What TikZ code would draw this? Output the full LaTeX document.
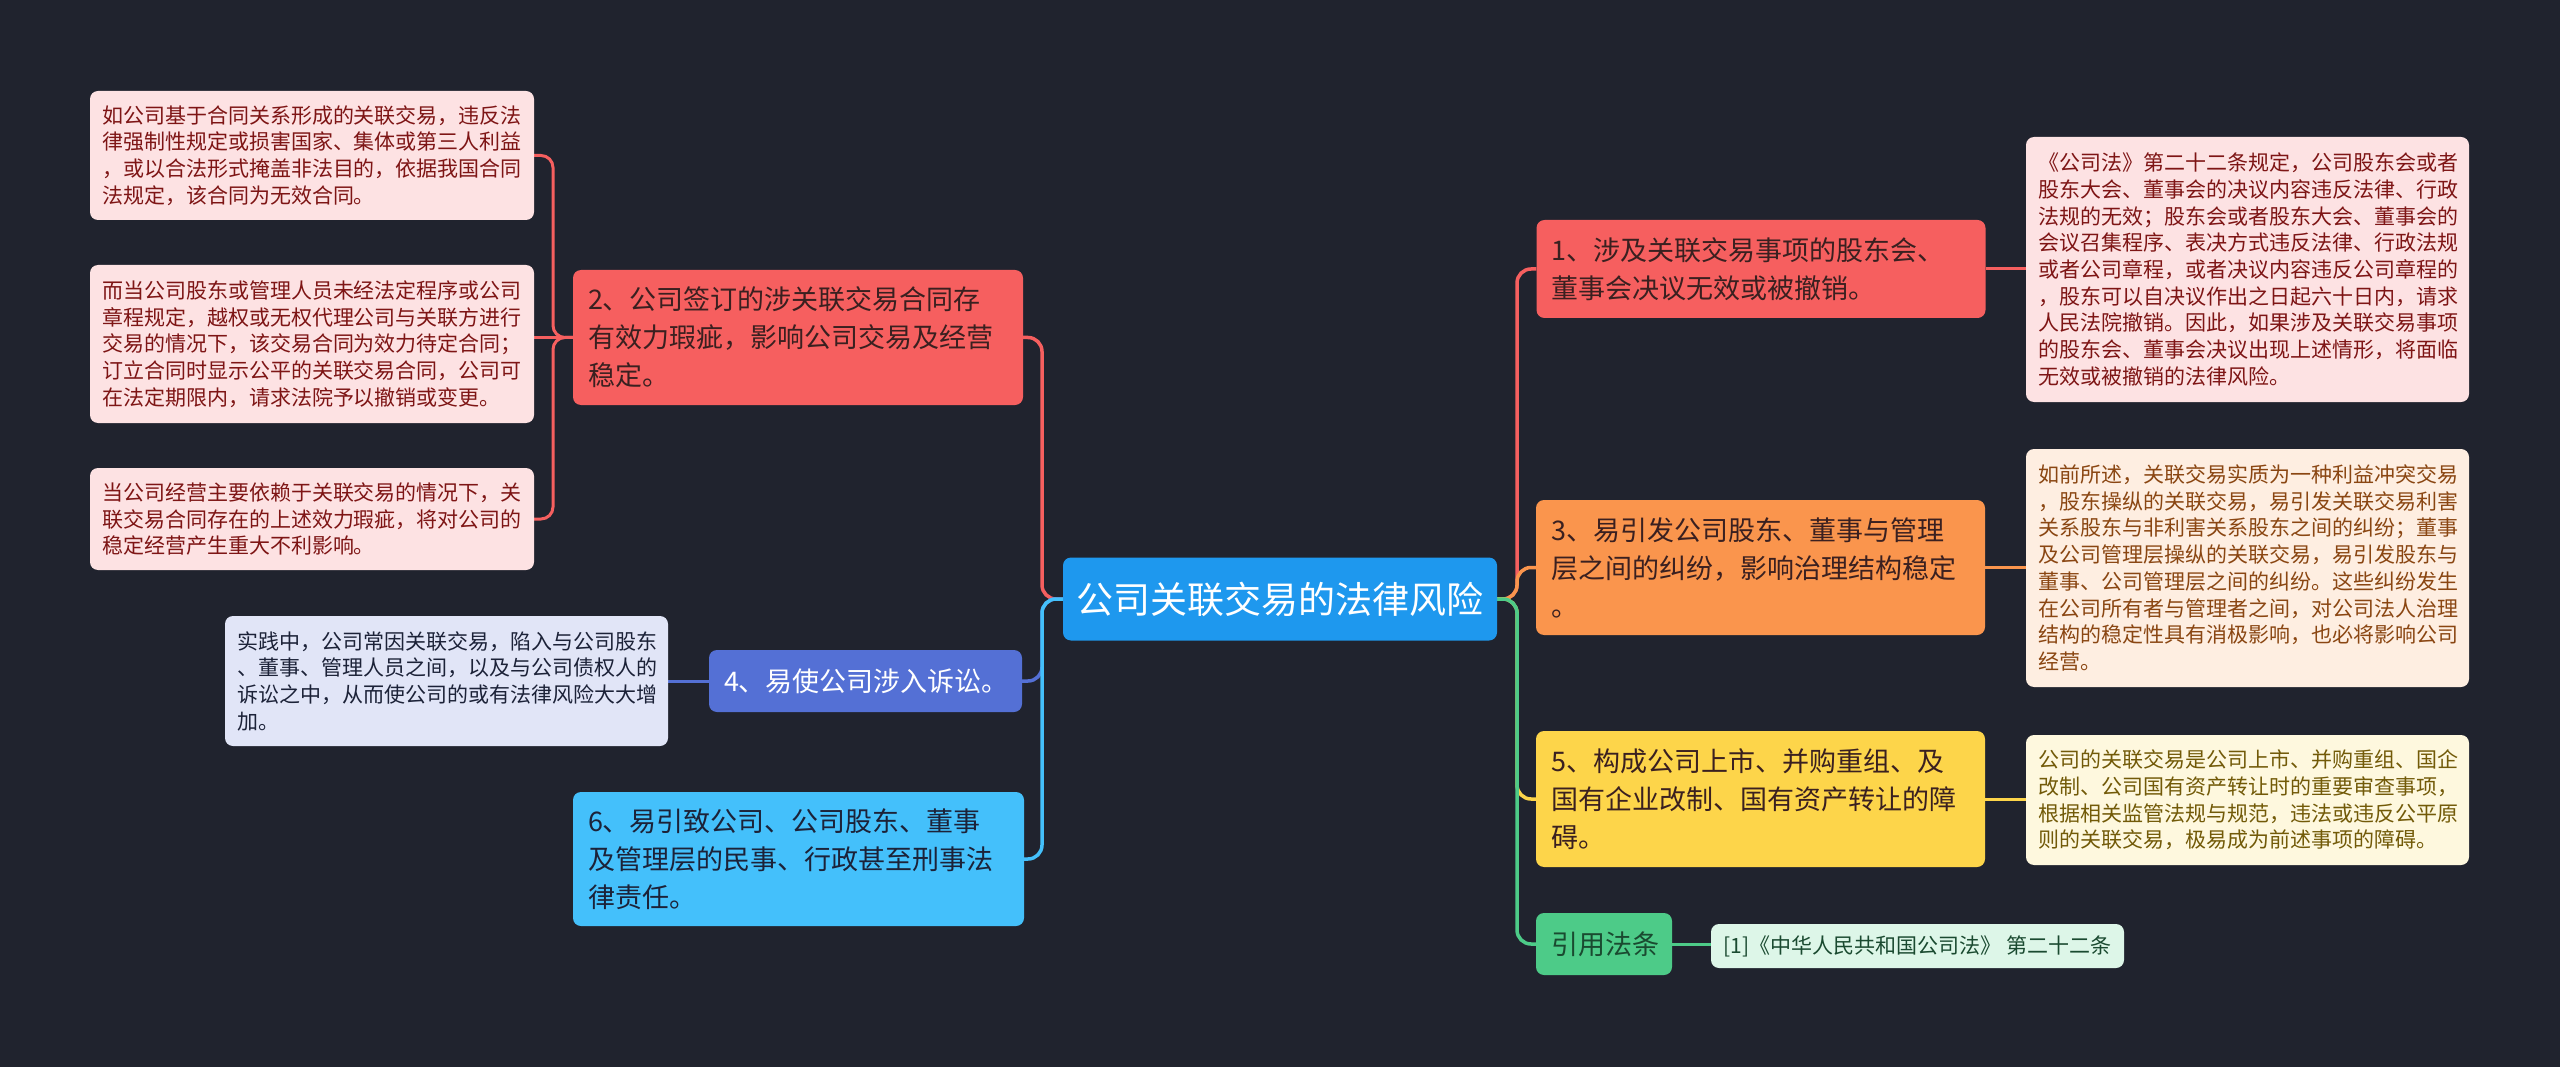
\documentclass[tikz,border=0pt]{standalone}
\usepackage{fontspec}
\usetikzlibrary{backgrounds}
\setmainfont{Noto Sans CJK SC}
\definecolor{bg}{HTML}{20232E}
\definecolor{rootc}{HTML}{1E98EE}
\definecolor{redc}{HTML}{F65F5F}
\definecolor{orgc}{HTML}{FA954D}
\definecolor{indc}{HTML}{5470D5}
\definecolor{yelc}{HTML}{FDD54A}
\definecolor{skyc}{HTML}{44C0FB}
\definecolor{grnc}{HTML}{4DCB88}
\definecolor{pinkbg}{HTML}{FDE2E3}
\definecolor{pinktx}{HTML}{7E1515}
\definecolor{peachbg}{HTML}{FEEEE1}
\definecolor{peachtx}{HTML}{8A4612}
\definecolor{lavbg}{HTML}{E1E5F7}
\definecolor{lavtx}{HTML}{1C2238}
\definecolor{creambg}{HTML}{FEF8DE}
\definecolor{creamtx}{HTML}{725A08}
\definecolor{mintbg}{HTML}{DDF6E8}
\definecolor{minttx}{HTML}{1A4A30}
\definecolor{darktx}{HTML}{3A2020}
\tikzset{
  box/.style={rounded corners=8pt, inner ysep=0pt, align=left, anchor=center},
  topic/.style={box, inner xsep=15pt, font=\fontsize{27pt}{38pt}\selectfont},
  leaf/.style={box, inner xsep=12pt, font=\fontsize{21pt}{26.7pt}\selectfont},
  link/.style={line width=3.5pt, rounded corners=14pt},
  leaflink/.style={line width=3pt, rounded corners=12pt}
}
\begin{document}
\begin{tikzpicture}[x=1pt,y=-1pt]
\useasboundingbox (0,0) rectangle (2560,1067);

% root
\node[box, fill=rootc, text=white, align=center, minimum width=434pt, minimum height=83pt,
  font=\fontsize{37pt}{42pt}\selectfont] (root) at (1280,599) {公司关联交易的法律风险};

% right topics
\node[topic, fill=redc, text=darktx, text width=419pt, minimum height=98pt] (n1) at (1761,269)
 {1、涉及关联交易事项的股东会、\\董事会决议无效或被撤销。};
\node[topic, fill=orgc, text=darktx, text width=419pt, minimum height=135pt] (n3) at (1760.5,567.5)
 {3、易引发公司股东、董事与管理\\层之间的纠纷，影响治理结构稳定\\。};
\node[topic, fill=yelc, text=darktx, text width=419pt, minimum height=136pt] (n5) at (1760.5,799)
 {5、构成公司上市、并购重组、及\\国有企业改制、国有资产转让的障\\碍。};
\node[topic, fill=grnc, text=minttx, text width=106pt, minimum height=62pt] (nr) at (1604,944)
 {引用法条};

% left topics
\node[topic, fill=redc, text=darktx, text width=420pt, minimum height=135pt] (n2) at (798,337.5)
 {2、公司签订的涉关联交易合同存\\有效力瑕疵，影响公司交易及经营\\稳定。};
\node[topic, fill=indc, text=white, text width=283pt, minimum height=62pt] (n4) at (865.5,681)
 {4、易使公司涉入诉讼。};
\node[topic, fill=skyc, text=lavtx, text width=421pt, minimum height=134pt] (n6) at (798.5,859)
 {6、易引致公司、公司股东、董事\\及管理层的民事、行政甚至刑事法\\律责任。};

% right leaves
\node[leaf, fill=pinkbg, text=pinktx, text width=419pt, minimum height=265pt] (l1) at (2247.5,269.5)
 {《公司法》第二十二条规定，公司股东会或者\\股东大会、董事会的决议内容违反法律、行政\\法规的无效；股东会或者股东大会、董事会的\\会议召集程序、表决方式违反法律、行政法规\\或者公司章程，或者决议内容违反公司章程的\\，股东可以自决议作出之日起六十日内，请求\\人民法院撤销。因此，如果涉及关联交易事项\\的股东会、董事会决议出现上述情形，将面临\\无效或被撤销的法律风险。};
\node[leaf, fill=peachbg, text=peachtx, text width=419pt, minimum height=238pt] (l3) at (2247.5,568)
 {如前所述，关联交易实质为一种利益冲突交易\\，股东操纵的关联交易，易引发关联交易利害\\关系股东与非利害关系股东之间的纠纷；董事\\及公司管理层操纵的关联交易，易引发股东与\\董事、公司管理层之间的纠纷。这些纠纷发生\\在公司所有者与管理者之间，对公司法人治理\\结构的稳定性具有消极影响，也必将影响公司\\经营。};
\node[leaf, fill=creambg, text=creamtx, text width=419pt, minimum height=130pt] (l5) at (2247.5,800)
 {公司的关联交易是公司上市、并购重组、国企\\改制、公司国有资产转让时的重要审查事项，\\根据相关监管法规与规范，违法或违反公平原\\则的关联交易，极易成为前述事项的障碍。};
\node[leaf, fill=mintbg, text=minttx, align=left, minimum width=413pt, minimum height=44pt] (lr) at (1917.5,946)
 {[1]《中华人民共和国公司法》\ 第二十二条\hfill};

% left leaves
\node[leaf, fill=pinkbg, text=pinktx, text width=420pt, minimum height=129pt] (l2a) at (312,155.5)
 {如公司基于合同关系形成的关联交易，违反法\\律强制性规定或损害国家、集体或第三人利益\\，或以合法形式掩盖非法目的，依据我国合同\\法规定，该合同为无效合同。};
\node[leaf, fill=pinkbg, text=pinktx, text width=420pt, minimum height=158pt] (l2b) at (312,344)
 {而当公司股东或管理人员未经法定程序或公司\\章程规定，越权或无权代理公司与关联方进行\\交易的情况下，该交易合同为效力待定合同；\\订立合同时显示公平的关联交易合同，公司可\\在法定期限内，请求法院予以撤销或变更。};
\node[leaf, fill=pinkbg, text=pinktx, text width=420pt, minimum height=102pt] (l2c) at (312,519)
 {当公司经营主要依赖于关联交易的情况下，关\\联交易合同存在的上述效力瑕疵，将对公司的\\稳定经营产生重大不利影响。};
\node[leaf, fill=lavbg, text=lavtx, text width=419pt, minimum height=130pt] (l4) at (446.5,681)
 {实践中，公司常因关联交易，陷入与公司股东\\、董事、管理人员之间，以及与公司债权人的\\诉讼之中，从而使公司的或有法律风险大大增\\加。};

\begin{pgfonlayer}{background}
\fill[bg] (0,0) rectangle (2560,1067);
% root connectors (right)
\draw[link, redc] (root.east) -- (1517,599) |- (n1.west);
\draw[link, orgc] (root.east) -- (1517,599) |- (n3.west);
\draw[link, yelc] (root.east) -- (1517,599) |- (n5.west);
\draw[link, grnc] (root.east) -- (1517,599) |- (nr.west);
% root connectors (left)
\draw[link, redc] (root.west) -- (1042,599) |- (n2.east);
\draw[link, indc] (root.west) -- (1042,599) |- (n4.east);
\draw[link, skyc] (root.west) -- (1042,599) |- (n6.east);
% leaf connectors
\draw[leaflink, redc] (n1.east) -- (l1.west |- n1.east);
\draw[leaflink, orgc] (n3.east) -- (l3.west |- n3.east);
\draw[leaflink, yelc] (n5.east) -- (l5.west |- n5.east);
\draw[leaflink, grnc] (nr.east) -- (lr.west |- nr.east);
\draw[leaflink, indc] (n4.west) -- (l4.east |- n4.west);
\draw[leaflink, redc] (n2.west) -- (553,337.5) |- (l2a.east);
\draw[leaflink, redc] (n2.west) -- (l2b.east |- n2.west);
\draw[leaflink, redc] (n2.west) -- (553,337.5) |- (l2c.east);
\end{pgfonlayer}
\end{tikzpicture}
\end{document}
